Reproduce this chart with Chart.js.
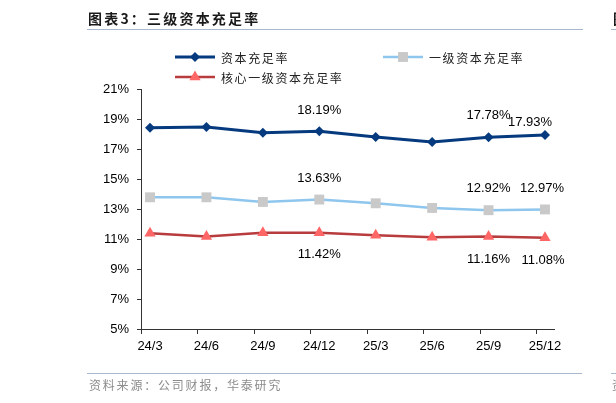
<!DOCTYPE html>
<html><head><meta charset="utf-8">
<script src="https://cdn.jsdelivr.net/npm/chart.js@4/dist/chart.umd.min.js"></script>
<style>
html,body{margin:0;padding:0;background:#fff;width:616px;height:403px;overflow:hidden;position:relative;}
#c{position:absolute;left:0;top:0;}
.t{position:absolute;white-space:nowrap;font-family:"Noto Sans CJK SC",sans-serif;}
.title{left:88px;top:10px;font-size:14px;font-weight:bold;line-height:16px;letter-spacing:2.2px;color:#1a1a1a;}
.src{left:89px;top:377px;font-size:12px;line-height:16px;letter-spacing:1.8px;color:#8c8c8c;}
.rule{position:absolute;height:0;border-top:1.5px solid #a8b8cd;}
</style></head><body>
<canvas id="c" width="616" height="403"></canvas>
<div class="t title">图表3：三级资本充足率</div>
<div class="rule" style="left:87px;top:29px;width:496px;"></div>
<div class="rule" style="left:611px;top:29px;width:10px;"></div>
<div class="t title" style="left:613px;">图</div>
<div class="rule" style="left:87px;top:373px;width:495px;"></div>
<div class="rule" style="left:611px;top:373px;width:10px;"></div>
<div class="t src">资料来源：公司财报，华泰研究</div>
<div class="t src" style="left:612px;">资</div>
<script>
const categories = ["24/3","24/6","24/9","24/12","25/3","25/6","25/9","25/12"];
const capitalAdequacy = [18.42, 18.47, 18.08, 18.19, 17.80, 17.47, 17.78, 17.93];
const tier1Adequacy   = [13.78, 13.78, 13.47, 13.63, 13.38, 13.07, 12.92, 12.97];
const coreTier1       = [11.38, 11.16, 11.42, 11.42, 11.25, 11.11, 11.16, 11.08];
const seriesNames = ["资本充足率", "一级资本充足率", "核心一级资本充足率"];
const yTicks = [5, 7, 9, 11, 13, 15, 17, 19, 21];
const labeledIndices = [3, 6, 7];

const labelOffsets = [
  [[0,-21],[0,-22],[-15,-13]],
  [[0,-21],[0,-22],[-3,-21]],
  [[0,22],[0,23],[-2,23]]
];
const legendSlots = [[175,57],[383,57],[175,77]];
const tickShift = 0.16;

const toXY = arr => arr.map((v,i)=>({x:i,y:v}));

const overlay = {
  id:'overlay',
  afterDraw(chart){
    const ctx = chart.ctx, xs = chart.scales.x, ys = chart.scales.y;
    const ca = chart.chartArea;
    ctx.save();
    // x tick marks (between-category style)
    ctx.strokeStyle = '#333'; ctx.lineWidth = 1;
    for (let i=0;i<categories.length;i++){
      const px = Math.round(xs.getPixelForValue(i - tickShift)) + 0.5;
      ctx.beginPath(); ctx.moveTo(px, ca.bottom); ctx.lineTo(px, ca.bottom+5); ctx.stroke();
    }
    // data labels
    ctx.font = '13px "Liberation Sans", Arial, sans-serif';
    ctx.fillStyle = '#000'; ctx.textAlign = 'center'; ctx.textBaseline = 'middle';
    chart.data.datasets.forEach((ds,si)=>{
      labeledIndices.forEach((idx,k)=>{
        const v = ds.data[idx].y;
        const px = xs.getPixelForValue(idx), py = ys.getPixelForValue(v);
        const o = labelOffsets[si][k];
        ctx.fillText(v.toFixed(2)+'%', px+o[0], py+o[1]);
      });
    });
    // legend
    chart.data.datasets.forEach((ds,si)=>{
      const [lx,ly] = legendSlots[si];
      ctx.strokeStyle = ds.borderColor; ctx.lineWidth = ds.borderWidth;
      ctx.beginPath(); ctx.moveTo(lx, ly); ctx.lineTo(lx+40, ly); ctx.stroke();
      ctx.fillStyle = ds.pointBackgroundColor; ctx.strokeStyle = ds.pointBorderColor; ctx.lineWidth = 1;
      Chart.helpers.drawPoint(ctx, {pointStyle: ds.pointStyle, radius: ds.pointRadius, rotation: 0, borderWidth: 0}, lx+20, ly);
      ctx.fillStyle = '#222';
      ctx.font = '12px "Noto Sans CJK SC", sans-serif';
      ctx.textAlign = 'left'; ctx.textBaseline = 'middle';
      if ('letterSpacing' in ctx) ctx.letterSpacing = '1.6px';
      ctx.fillText(ds.label, lx+46, ly+1);
      if ('letterSpacing' in ctx) ctx.letterSpacing = '0px';
    });
    ctx.restore();
  }
};

new Chart(document.getElementById('c'), {
  type: 'line',
  data: {
    datasets: [
      {label: seriesNames[0], data: toXY(capitalAdequacy), borderColor:'#053a7e', borderWidth:3,
       pointStyle:'rectRot', pointRadius:5, pointBackgroundColor:'#053a7e', pointBorderColor:'#053a7e', pointBorderWidth:0, tension:0},
      {label: seriesNames[1], data: toXY(tier1Adequacy), borderColor:'#8ec6ee', borderWidth:2.5,
       pointStyle:'rect', pointRadius:7, pointBackgroundColor:'#c9c9c9', pointBorderColor:'#c9c9c9', pointBorderWidth:0, tension:0},
      {label: seriesNames[2], data: toXY(coreTier1), borderColor:'#b83b3d', borderWidth:2.5,
       pointStyle:'triangle', pointRadius:6.5, pointBackgroundColor:'#ff6666', pointBorderColor:'#ff6666', pointBorderWidth:0, tension:0}
    ]
  },
  options: {
    responsive:false, animation:false, devicePixelRatio:1,
    layout:{padding:{left:0,right:62,top:89,bottom:0}},
    plugins:{legend:{display:false}, tooltip:{enabled:false}},
    scales:{
      x:{type:'linear', min:-tickShift, max:categories.length-1+tickShift,
         afterBuildTicks(s){ s.ticks = categories.map((c,i)=>({value:i})); },
         afterFit(s){ s.height = 74; },
         grid:{display:false, drawTicks:false},
         border:{display:true, color:'#333', width:1},
         ticks:{padding:10, autoSkip:false, maxRotation:0, color:'#000',
           font:{family:'"Liberation Sans", Arial, sans-serif', size:13},
           callback:(v)=>categories[Math.round(v)]}},
      y:{min:yTicks[0], max:yTicks[yTicks.length-1],
         afterBuildTicks(s){ s.ticks = yTicks.map(v=>({value:v})); },
         afterFit(s){ s.width = 141; },
         grid:{drawOnChartArea:false, drawTicks:true, tickLength:4, color:'#333'},
         border:{display:true, color:'#333', width:1},
         ticks:{padding:8, color:'#000',
           font:{family:'"Liberation Sans", Arial, sans-serif', size:13},
           callback:(v)=>v+'%'}}
    }
  },
  plugins:[overlay]
});
</script>
</body></html>
